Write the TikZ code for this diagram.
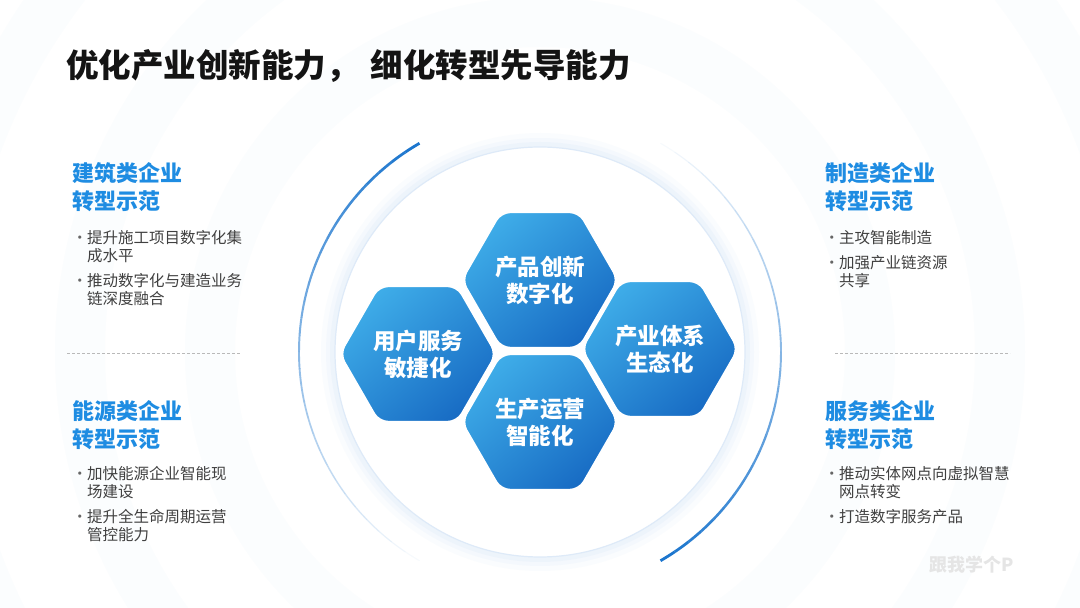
\documentclass[tikz,border=0pt]{standalone}
\usepackage{fontspec}
\setmainfont{Noto Sans CJK SC}
\definecolor{primary}{RGB}{28, 118, 206}
\definecolor{heading}{RGB}{30, 140, 226}
\definecolor{hexlight}{RGB}{62, 172, 232}
\definecolor{hexdark}{RGB}{24, 108, 196}
\definecolor{glow}{RGB}{120, 170, 230}
\definecolor{ringline}{RGB}{222, 234, 248}
\definecolor{bodytext}{RGB}{64, 64, 64}
\usetikzlibrary{shapes.geometric, positioning, calc}
\newcommand{\bulletmark}{\makebox[15pt][l]{\textcolor{bodytext!80}{•}}}
\newcommand{\bulletpad}{\hspace*{15pt}}
\tikzset{
  hexa/.style={regular polygon, regular polygon sides=6, minimum size=156pt, inner sep=0pt,
    rounded corners=9pt, draw=white, line width=1.5pt, top color=hexlight, bottom color=hexdark,
    shading angle=40, text=white, font=\bfseries\fontsize{22.5}{27}\selectfont, align=center},
  headline/.style={anchor=north west, inner sep=0pt, align=left, text=heading,
    font=\bfseries\fontsize{22}{28}\selectfont},
  bullets/.style={anchor=north west, inner sep=0pt, align=left, text=bodytext,
    font=\fontsize{15.5}{18}\selectfont},
  divider/.style={gray!55, line width=0.6pt, dash pattern=on 3pt off 2pt},
}

\begin{document}
\begin{tikzpicture}[x=1pt, y=1pt]
  \useasboundingbox (0,0) rectangle (1080,608);
  \fill[white] (0,0) rectangle (1080,608);
  \coordinate (ctr) at (540,256);

  \begin{scope}
    \clip (0,0) rectangle (1080,608);
    \foreach \r in {330, 460, 600}
      \draw[glow, line width=50pt, opacity=0.022] (ctr) circle[radius=\r];
  \end{scope}

  \foreach \w/\o in {26/0.03, 16/0.04, 8/0.05}
    \draw[glow, line width=\w pt, opacity=\o] (ctr) circle[radius=206];
  \fill[white] (ctr) circle[radius=205];
  \draw[ringline, line width=1.2pt] (ctr) circle[radius=205];

  \foreach \i in {0,...,29}{
    \pgfmathsetmacro\op{1-\i/30}
    \pgfmathsetmacro\lw{2.8-1.8*\i/30}
    \draw[primary, line width=\lw pt, opacity=\op] (ctr) ++({120+4*\i}:241)
      arc[start angle={120+4*\i}, end angle={124+4*\i}, radius=241];
    \draw[primary, line width=\lw pt, opacity=\op] (ctr) ++({-60+4*\i}:241)
      arc[start angle={-60+4*\i}, end angle={-56+4*\i}, radius=241];
  }

  \node[hexa] (prod) at (540,328) {产品创新\\数字化};
  \node[hexa] (user) at (418,254) {用户服务\\敏捷化};
  \node[hexa] (eco) at (660,259) {产业体系\\生态化};
  \node[hexa] (ops) at (540,186) {生产运营\\智能化};

  \node[anchor=west, inner sep=0pt, font=\bfseries\fontsize{32.5}{36}\selectfont, text=black!92]
    (title) at (66,542) {优化产业创新能力，\hspace*{12pt}细化转型先导能力};

  \node[headline] (build) at (72,446) {建筑类企业\\转型示范};
  \node[bullets] (buildlist) at (72,378) {\bulletmark 提升施工项目数字化集\\ \bulletpad 成水平\\[7pt]
    \bulletmark 推动数字化与建造业务\\ \bulletpad 链深度融合};
  \draw[divider] (67,255) -- (240,255);
  \node[headline] (energy) at (72,208) {能源类企业\\转型示范};
  \node[bullets] (energylist) at (72,142) {\bulletmark 加快能源企业智能现\\ \bulletpad 场建设\\[7pt]
    \bulletmark 提升全生命周期运营\\ \bulletpad 管控能力};

  \node[headline] (make) at (825,446) {制造类企业\\转型示范};
  \node[bullets] (makelist) at (824,378) {\bulletmark 主攻智能制造\\[7pt]
    \bulletmark 加强产业链资源\\ \bulletpad 共享};
  \draw[divider] (835,255) -- (1010,255);
  \node[headline] (serv) at (825,208) {服务类企业\\转型示范};
  \node[bullets] (servlist) at (824,142) {\bulletmark 推动实体网点向虚拟智慧\\ \bulletpad 网点转变\\[7pt]
    \bulletmark 打造数字服务产品};

  \node[inner sep=0pt, text=gray!20, font=\bfseries\fontsize{18}{20}\selectfont] (mark) at (972,43) {跟我学个P};
\end{tikzpicture}
\end{document}
